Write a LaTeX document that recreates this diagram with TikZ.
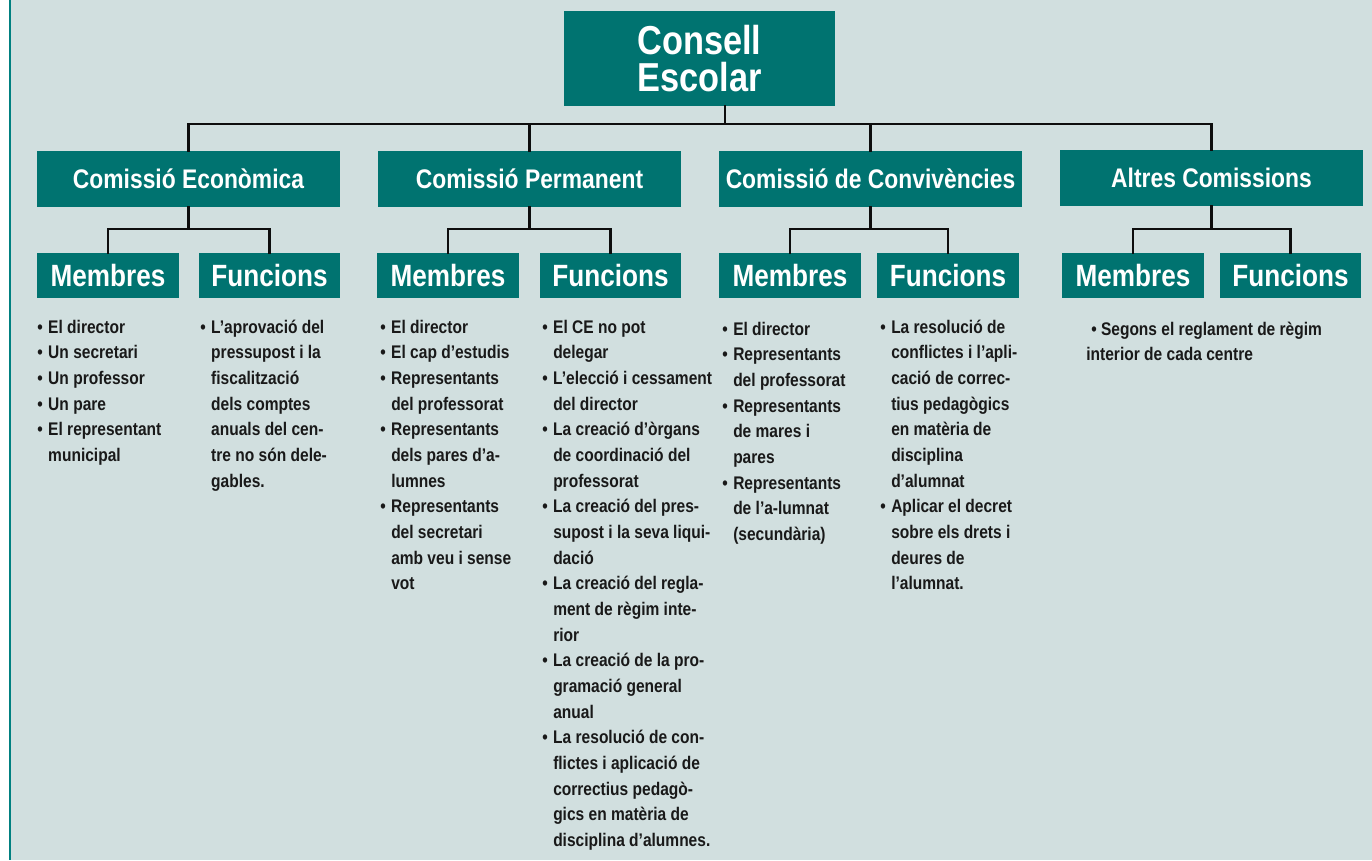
\documentclass[tikz,border=0pt]{standalone}
\usepackage{fontspec}
\setmainfont{Liberation Sans}[FakeStretch=0.85]
\definecolor{boxteal}{RGB}{0,115,112}
\definecolor{paper}{RGB}{209,223,223}
\definecolor{edgeteal}{RGB}{0,128,128}
\newcommand\itm{\strut\makebox[6.2pt][l]{\textbullet}}
\newcommand\ind{\hspace*{6.2pt}}

\begin{document}
\begin{tikzpicture}[x=0.02cm,y=-0.02cm]
    \tikzstyle{every node}+=[inner sep=0pt]
    \tikzstyle{box}=[fill=boxteal, text=white]
    \tikzstyle{comm}=[box, minimum width=6.06cm, minimum height=1.12cm, font=\fontsize{15.3}{18}\selectfont\bfseries]
    \tikzstyle{part}=[box, minimum width=2.83cm, minimum height=0.9cm, font=\fontsize{17.5}{20}\selectfont\bfseries]
    \tikzstyle{list}=[anchor=north west, align=left, text=black!90, font=\fontsize{10.4}{14.6}\selectfont\bfseries]
    \tikzstyle{link}=[draw=black!95, line width=1.2pt, line cap=rect]
    \useasboundingbox (0,0) rectangle (1372,860);
    % page ground
    \fill [white] (0,0) rectangle (1372,860);
    \fill [paper] (10,0) rectangle (1372,860);
    \draw [edgeteal, line width=1.1pt] (10,0) -- (10,860);
    % council
    \node [box, minimum width=5.42cm, minimum height=1.9cm, align=left,
           font=\fontsize{23}{21}\selectfont\bfseries] (ce) at (699.5,58.5) {Consell\\Escolar};
    % commissions
    \node [comm] (econ) at (188.5,179) {Comissió Econòmica};
    \node [comm] (perm) at (529.5,179) {Comissió Permanent};
    \node [comm] (conv) at (870.5,179) {Comissió de Convivències};
    \node [comm] (altres) at (1211.5,178) {Altres Comissions};
    % members / functions
    \node [part] (m1) at (108,275.5) {Membres};
    \node [part] (f1) at (269.5,275.5) {Funcions};
    \node [part] (m2) at (448,275.5) {Membres};
    \node [part] (f2) at (610.5,275.5) {Funcions};
    \node [part] (m3) at (790,275.5) {Membres};
    \node [part] (f3) at (948,275.5) {Funcions};
    \node [part] (m4) at (1133,275.5) {Membres};
    \node [part] (f4) at (1290.5,275.5) {Funcions};
    % tree
    \coordinate (hub) at (725,124);
    \coordinate (bar) at (0,229);
    \draw [link] (ce.south -| hub) -- (hub);
    \draw [link] (econ.north |- hub) -- (altres.north |- hub);
    \foreach \c/\m/\f in {econ/m1/f1, perm/m2/f2, conv/m3/f3, altres/m4/f4} {
        \draw [link] (\c.north) -- (\c.north |- hub);
        \draw [link] (\c.south) -- (\c.south |- bar);
        \draw [link] (\m.north) |- (\c.south |- bar) -| (\f.north);
    }
    % lists
    \node [list] (l1) at (37,315) {\itm El director\\ \itm Un secretari\\ \itm Un professor\\
        \itm Un pare\\ \itm El representant\\ \ind municipal};
    \node [list] (l2) at (200,315) {\itm L’aprovació del\\ \ind pressupost i la\\ \ind fiscalització\\
        \ind dels comptes\\ \ind anuals del cen-\\ \ind tre no són dele-\\ \ind gables.};
    \node [list] (l3) at (380,315) {\itm El director\\ \itm El cap d’estudis\\ \itm Representants\\
        \ind del professorat\\ \itm Representants\\ \ind dels pares d’a-\\ \ind lumnes\\
        \itm Representants\\ \ind del secretari\\ \ind amb veu i sense\\ \ind vot};
    \node [list] (l4) at (542,315) {\itm El CE no pot\\ \ind delegar\\ \itm L’elecció i cessament\\
        \ind del director\\ \itm La creació d’òrgans\\ \ind de coordinació del\\ \ind professorat\\
        \itm La creació del pres-\\ \ind supost i la seva liqui-\\ \ind dació\\
        \itm La creació del regla-\\ \ind ment de règim inte-\\ \ind rior\\
        \itm La creació de la pro-\\ \ind gramació general\\ \ind anual\\
        \itm La resolució de con-\\ \ind flictes i aplicació de\\ \ind correctius pedagò-\\
        \ind gics en matèria de\\ \ind disciplina d’alumnes.};
    \node [list] (l5) at (722,317) {\itm El director\\ \itm Representants\\ \ind del professorat\\
        \itm Representants\\ \ind de mares i\\ \ind pares\\ \itm Representants\\
        \ind de l’a-lumnat\\ \ind (secundària)};
    \node [list] (l6) at (880,315) {\itm La resolució de\\ \ind conflictes i l’apli-\\
        \ind cació de correc-\\ \ind tius pedagògics\\ \ind en matèria de\\ \ind disciplina\\
        \ind d’alumnat\\ \itm Aplicar el decret\\ \ind sobre els drets i\\ \ind deures de\\
        \ind l’alumnat.};
    \node [list] (l7) at (1086,317) {\strut\hspace*{2.8pt}\textbullet\ Segons el reglament de règim\\
        interior de cada centre};
\end{tikzpicture}
\end{document}
